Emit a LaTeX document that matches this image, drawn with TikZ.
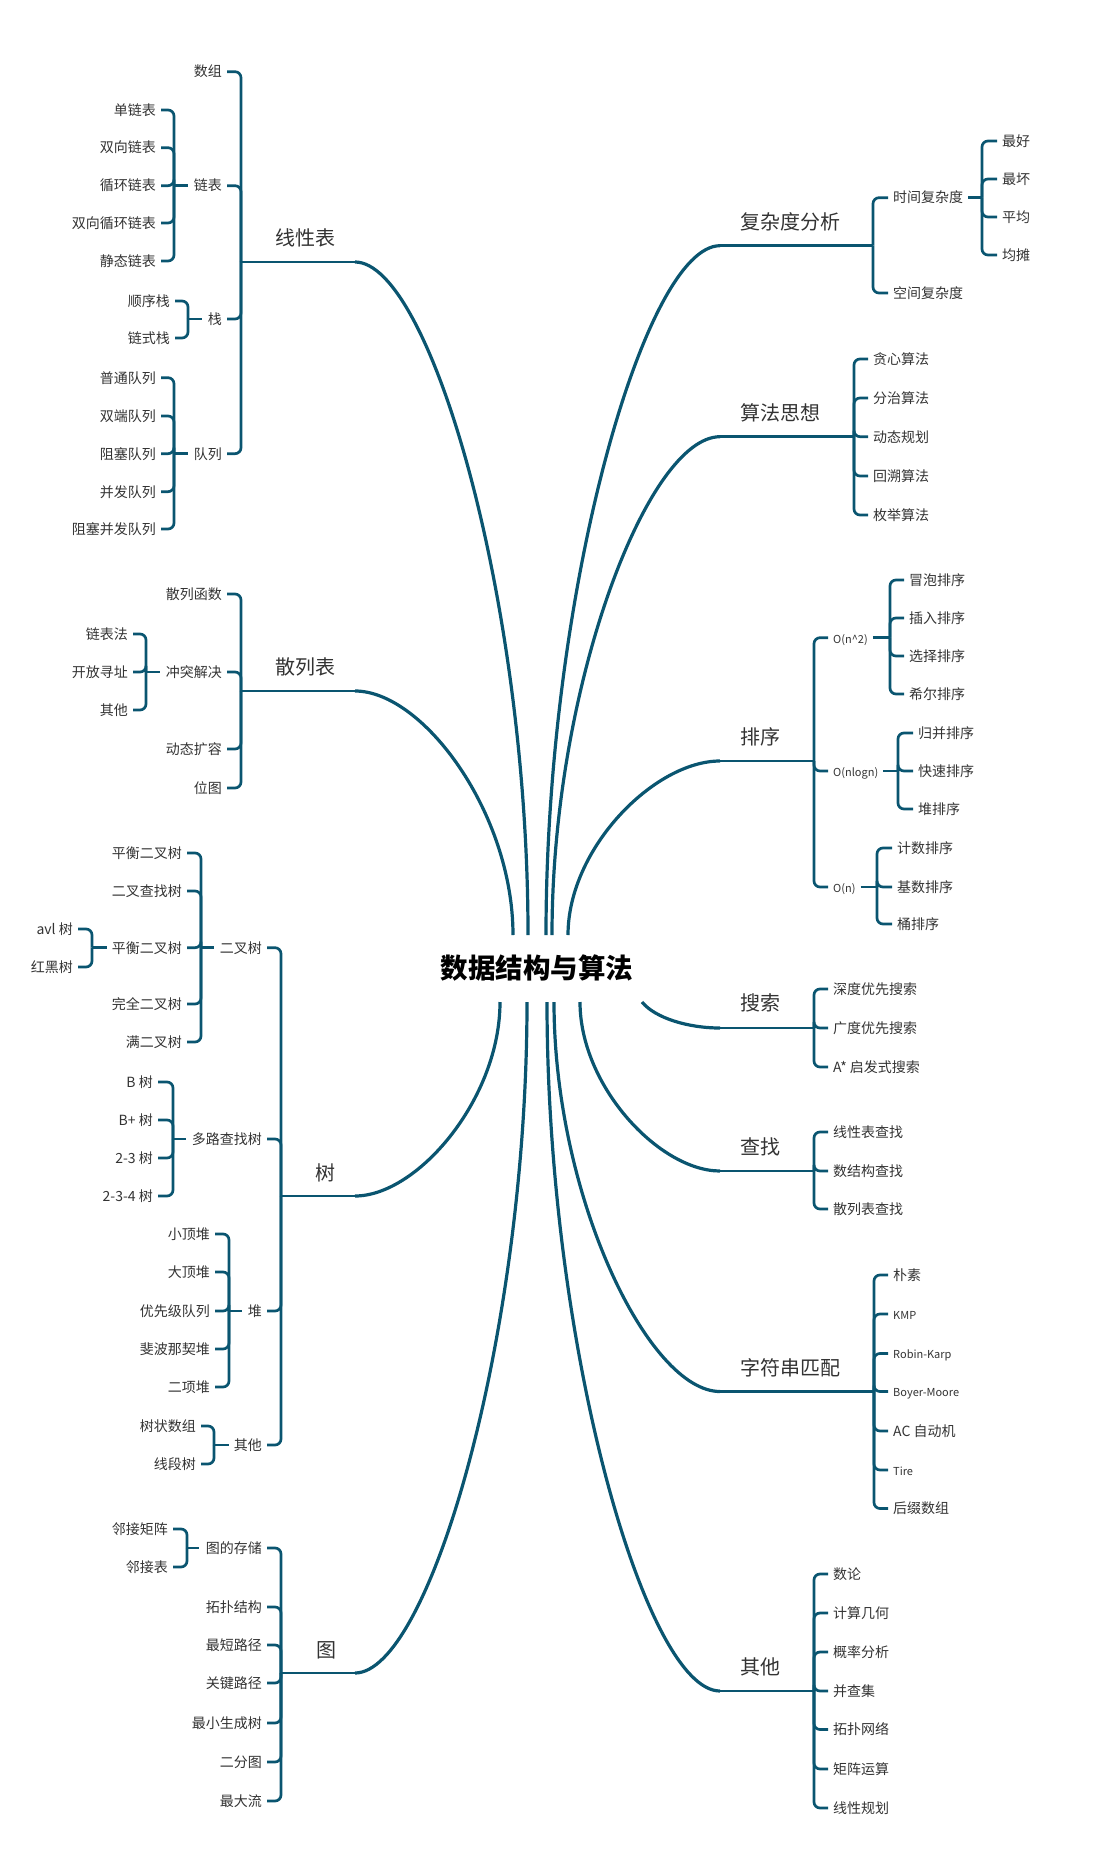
\documentclass[tikz,border=0pt]{standalone}
\usepackage{fontspec}
\setmainfont{Noto Sans CJK SC}
\usetikzlibrary{calc}
\definecolor{ln}{HTML}{0A5570}
\definecolor{tx}{HTML}{333333}
\newcommand\mcurve[2]{\draw[main] (#1) .. controls ($(#1)!.5!(#1|-#2)$) and ($(#2)!.43!(#2-|#1)$) .. (#2);}
\newcommand\Lk[2]{\foreach \c in {#2}{\draw[br] (#1) |- ([xshift=5pt]\c.east);}}
\newcommand\Rk[2]{\foreach \c in {#2}{\draw[br] (#1) |- ([xshift=-5pt]\c.west);}}
\begin{document}
\begin{tikzpicture}[x=1pt,y=-1pt,
  main/.style={draw=ln,line width=3.2pt},
  br/.style={draw=ln,line width=2.7pt,rounded corners=6pt},
  root/.style={font=\fontsize{27.5}{27.5}\selectfont\bfseries,text=black,inner sep=0pt},
  top/.style={font=\fontsize{20}{20}\selectfont,text=tx,inner sep=0pt,text height=17.6pt,text depth=2.4pt},
  lf/.style={font=\fontsize{14}{14}\selectfont,text=tx,inner sep=0pt,text height=12.3pt,text depth=1.7pt},
  lat/.style={lf,font=\fontsize{11}{11}\selectfont},
]
\useasboundingbox (0,0) rectangle (1102,1867);
\node[root] (root) at (537,968) {数据结构与算法};
% curve starts on the root box
\coordinate (s1) at (528,935);
\coordinate (s2) at (513,935);
\coordinate (s3) at (500,1002);
\coordinate (s4) at (527,1002);
\coordinate (s5) at (546,935);
\coordinate (s6) at (552,935);
\coordinate (s7) at (568,935);
\coordinate (s8) at (642,1002);
\coordinate (s9) at (580,1002);
\coordinate (s10) at (554,1002);
\coordinate (s11) at (547,1002);

%================ 线性表
\coordinate (e1) at (355,262); \coordinate (j1) at (241,262);
\node[top,anchor=west] (b1) at (275,238) {线性表};
\mcurve{s1}{e1}
\draw[br,rounded corners=0pt] (e1) -- (j1);
\node[lf,anchor=east] (a1) at (222,71.7) {数组};
\node[lf,anchor=east] (a2) at (222,185.7) {链表};
\node[lf,anchor=east] (a3) at (222,319) {栈};
\node[lf,anchor=east] (a4) at (222,453.7) {队列};
\Lk{j1}{a1,a2,a3,a4}
\coordinate (ja2) at (174,185.7);
\draw[br] (ja2) -- ([xshift=-6pt]a2.west);
\node[lf,anchor=east] (a21) at (156,110) {单链表};
\node[lf,anchor=east] (a22) at (156,147.7) {双向链表};
\node[lf,anchor=east] (a23) at (156,185.7) {循环链表};
\node[lf,anchor=east] (a24) at (156,223) {双向循环链表};
\node[lf,anchor=east] (a25) at (156,261) {静态链表};
\Lk{ja2}{a21,a22,a23,a24,a25}
\coordinate (ja3) at (188,319);
\draw[br] (ja3) -- ([xshift=-6pt]a3.west);
\node[lf,anchor=east] (a31) at (170,301) {顺序栈};
\node[lf,anchor=east] (a32) at (170,338) {链式栈};
\Lk{ja3}{a31,a32}
\coordinate (ja4) at (174,453.7);
\draw[br] (ja4) -- ([xshift=-6pt]a4.west);
\node[lf,anchor=east] (a41) at (156,377.7) {普通队列};
\node[lf,anchor=east] (a42) at (156,416) {双端队列};
\node[lf,anchor=east] (a43) at (156,453.7) {阻塞队列};
\node[lf,anchor=east] (a44) at (156,491.7) {并发队列};
\node[lf,anchor=east] (a45) at (156,529) {阻塞并发队列};
\Lk{ja4}{a41,a42,a43,a44,a45}

%================ 散列表
\coordinate (e2) at (355,691); \coordinate (j2) at (241,691);
\node[top,anchor=west] (b2) at (275,667) {散列表};
\mcurve{s2}{e2}
\draw[br,rounded corners=0pt] (e2) -- (j2);
\node[lf,anchor=east] (h1) at (222,594) {散列函数};
\node[lf,anchor=east] (h2) at (222,672) {冲突解决};
\node[lf,anchor=east] (h3) at (222,749) {动态扩容};
\node[lf,anchor=east] (h4) at (222,788) {位图};
\Lk{j2}{h1,h2,h3,h4}
\coordinate (jh2) at (146,672);
\draw[br] (jh2) -- ([xshift=-6pt]h2.west);
\node[lf,anchor=east] (h21) at (128,634) {链表法};
\node[lf,anchor=east] (h22) at (128,672) {开放寻址};
\node[lf,anchor=east] (h23) at (128,710) {其他};
\Lk{jh2}{h21,h22,h23}

%================ 树
\coordinate (e3) at (355,1196); \coordinate (j3) at (281,1196);
\node[top,anchor=west] (b3) at (315,1173) {树};
\mcurve{s3}{e3}
\draw[br,rounded corners=0pt] (e3) -- (j3);
\node[lf,anchor=east] (t1) at (262,947.7) {二叉树};
\node[lf,anchor=east] (t2) at (262,1139) {多路查找树};
\node[lf,anchor=east] (t3) at (262,1311) {堆};
\node[lf,anchor=east] (t4) at (262,1445) {其他};
\Lk{j3}{t1,t2,t3,t4}
\coordinate (jt1) at (201,947.7);
\draw[br] (jt1) -- ([xshift=-6pt]t1.west);
\node[lf,anchor=east] (t11) at (182,853) {平衡二叉树};
\node[lf,anchor=east] (t12) at (182,891) {二叉查找树};
\node[lf,anchor=east] (t13) at (182,947.7) {平衡二叉树};
\node[lf,anchor=east] (t14) at (182,1004) {完全二叉树};
\node[lf,anchor=east] (t15) at (182,1042) {满二叉树};
\Lk{jt1}{t11,t12,t13,t14,t15}
\coordinate (jt13) at (92,947.7);
\draw[br] (jt13) -- ([xshift=-5pt]t13.west);
\node[lf,anchor=east] (t131) at (73,929) {avl 树};
\node[lf,anchor=east] (t132) at (73,967) {红黑树};
\Lk{jt13}{t131,t132}
\coordinate (jt2) at (173,1139);
\draw[br] (jt2) -- ([xshift=-6pt]t2.west);
\node[lf,anchor=east] (t21) at (153,1082) {B 树};
\node[lf,anchor=east] (t22) at (153,1120) {B+ 树};
\node[lf,anchor=east] (t23) at (153,1158) {2-3 树};
\node[lf,anchor=east] (t24) at (153,1196) {2-3-4 树};
\Lk{jt2}{t21,t22,t23,t24}
\coordinate (jt3) at (229,1311);
\draw[br] (jt3) -- ([xshift=-6pt]t3.west);
\node[lf,anchor=east] (t31) at (210,1234) {小顶堆};
\node[lf,anchor=east] (t32) at (210,1272) {大顶堆};
\node[lf,anchor=east] (t33) at (210,1311) {优先级队列};
\node[lf,anchor=east] (t34) at (210,1349) {斐波那契堆};
\node[lf,anchor=east] (t35) at (210,1387) {二项堆};
\Lk{jt3}{t31,t32,t33,t34,t35}
\coordinate (jt4) at (214,1445);
\draw[br] (jt4) -- ([xshift=-5pt]t4.west);
\node[lf,anchor=east] (t41) at (196,1426) {树状数组};
\node[lf,anchor=east] (t42) at (196,1464) {线段树};
\Lk{jt4}{t41,t42}

%================ 图
\coordinate (e4) at (355,1673); \coordinate (j4) at (281,1673);
\node[top,anchor=west] (b4) at (316,1650) {图};
\mcurve{s4}{e4}
\draw[br,rounded corners=0pt] (e4) -- (j4);
\node[lf,anchor=east] (g1) at (262,1548) {图的存储};
\node[lf,anchor=east] (g2) at (262,1607) {拓扑结构};
\node[lf,anchor=east] (g3) at (262,1645) {最短路径};
\node[lf,anchor=east] (g4) at (262,1683) {关键路径};
\node[lf,anchor=east] (g5) at (262,1723) {最小生成树};
\node[lf,anchor=east] (g6) at (262,1762) {二分图};
\node[lf,anchor=east] (g7) at (262,1801) {最大流};
\Lk{j4}{g1,g2,g3,g4,g5,g6,g7}
\coordinate (jg1) at (187,1548);
\draw[br] (jg1) -- ([xshift=-7pt]g1.west);
\node[lf,anchor=east] (g11) at (168,1529) {邻接矩阵};
\node[lf,anchor=east] (g12) at (168,1567) {邻接表};
\Lk{jg1}{g11,g12}

%================ 复杂度分析
\coordinate (e5) at (720,245.7); \coordinate (j5) at (873,245.7);
\node[top,anchor=west] (b5) at (740,222) {复杂度分析};
\mcurve{s5}{e5}
\draw[br,rounded corners=0pt] (e5) -- (j5);
\node[lf,anchor=west] (c1) at (893,197.7) {时间复杂度};
\node[lf,anchor=west] (c2) at (893,293) {空间复杂度};
\Rk{j5}{c1,c2}
\coordinate (jc1) at (982,197.7);
\draw[br] ([xshift=5pt]c1.east) -- (jc1);
\node[lf,anchor=west] (c11) at (1002,141) {最好};
\node[lf,anchor=west] (c12) at (1002,179) {最坏};
\node[lf,anchor=west] (c13) at (1002,217) {平均};
\node[lf,anchor=west] (c14) at (1002,255) {均摊};
\Rk{jc1}{c11,c12,c13,c14}

%================ 算法思想
\coordinate (e6) at (720,436.7); \coordinate (j6) at (854,436.7);
\node[top,anchor=west] (b6) at (740,413) {算法思想};
\mcurve{s6}{e6}
\draw[br,rounded corners=0pt] (e6) -- (j6);
\node[lf,anchor=west] (f1) at (873,359) {贪心算法};
\node[lf,anchor=west] (f2) at (873,398) {分治算法};
\node[lf,anchor=west] (f3) at (873,436.7) {动态规划};
\node[lf,anchor=west] (f4) at (873,476) {回溯算法};
\node[lf,anchor=west] (f5) at (873,515) {枚举算法};
\Rk{j6}{f1,f2,f3,f4,f5}

%================ 排序
\coordinate (e7) at (720,761); \coordinate (j7) at (814,761);
\node[top,anchor=west] (b7) at (740,737) {排序};
\mcurve{s7}{e7}
\draw[br,rounded corners=0pt] (e7) -- (j7);
\node[lat,anchor=west] (d1) at (833,637.7) {O(n\^{}2)};
\node[lat,anchor=west] (d2) at (833,771) {O(nlogn)};
\node[lat,anchor=west] (d3) at (833,887) {O(n)};
\Rk{j7}{d1,d2,d3}
\coordinate (jd1) at (890,637.7);
\draw[br] ([xshift=5pt]d1.east) -- (jd1);
\node[lf,anchor=west] (d11) at (909,580) {冒泡排序};
\node[lf,anchor=west] (d12) at (909,618) {插入排序};
\node[lf,anchor=west] (d13) at (909,656) {选择排序};
\node[lf,anchor=west] (d14) at (909,694) {希尔排序};
\Rk{jd1}{d11,d12,d13,d14}
\coordinate (jd2) at (898,771);
\draw[br] ([xshift=5pt]d2.east) -- (jd2);
\node[lf,anchor=west] (d21) at (918,733) {归并排序};
\node[lf,anchor=west] (d22) at (918,771) {快速排序};
\node[lf,anchor=west] (d23) at (918,809) {堆排序};
\Rk{jd2}{d21,d22,d23}
\coordinate (jd3) at (877,887);
\draw[br] ([xshift=5pt]d3.east) -- (jd3);
\node[lf,anchor=west] (d31) at (897,848) {计数排序};
\node[lf,anchor=west] (d32) at (897,887) {基数排序};
\node[lf,anchor=west] (d33) at (897,924) {桶排序};
\Rk{jd3}{d31,d32,d33}

%================ 搜索
\coordinate (e8) at (720,1028); \coordinate (j8) at (814,1028);
\node[top,anchor=west] (b8) at (740,1003) {搜索};
\draw[main] (s8) .. controls (655,1018) and (688,1028) .. (e8);
\draw[br,rounded corners=0pt] (e8) -- (j8);
\node[lf,anchor=west] (k1) at (833,989) {深度优先搜索};
\node[lf,anchor=west] (k2) at (833,1028) {广度优先搜索};
\node[lf,anchor=west] (k3) at (833,1067) {A* 启发式搜索};
\Rk{j8}{k1,k2,k3}

%================ 查找
\coordinate (e9) at (720,1171); \coordinate (j9) at (814,1171);
\node[top,anchor=west] (b9) at (740,1147) {查找};
\mcurve{s9}{e9}
\draw[br,rounded corners=0pt] (e9) -- (j9);
\node[lf,anchor=west] (m1) at (833,1132) {线性表查找};
\node[lf,anchor=west] (m2) at (833,1171) {数结构查找};
\node[lf,anchor=west] (m3) at (833,1209) {散列表查找};
\Rk{j9}{m1,m2,m3}

%================ 字符串匹配
\coordinate (e10) at (720,1391.5); \coordinate (j10) at (874,1391.5);
\node[top,anchor=west] (b10) at (740,1368) {字符串匹配};
\mcurve{s10}{e10}
\draw[br,rounded corners=0pt] (e10) -- (j10);
\node[lf,anchor=west] (p1) at (893,1275) {朴素};
\node[lat,anchor=west] (p2) at (893,1314) {KMP};
\node[lat,anchor=west] (p3) at (893,1353.5) {Robin-Karp};
\node[lat,anchor=west] (p4) at (893,1391.5) {Boyer-Moore};
\node[lf,anchor=west] (p5) at (893,1431) {AC 自动机};
\node[lat,anchor=west] (p6) at (893,1470) {Tire};
\node[lf,anchor=west] (p7) at (893,1508.5) {后缀数组};
\Rk{j10}{p1,p2,p3,p4,p5,p6,p7}

%================ 其他
\coordinate (e11) at (720,1691); \coordinate (j11) at (814,1691);
\node[top,anchor=west] (b11) at (740,1666.5) {其他};
\mcurve{s11}{e11}
\draw[br,rounded corners=0pt] (e11) -- (j11);
\node[lf,anchor=west] (q1) at (833,1574) {数论};
\node[lf,anchor=west] (q2) at (833,1613) {计算几何};
\node[lf,anchor=west] (q3) at (833,1652) {概率分析};
\node[lf,anchor=west] (q4) at (833,1691) {并查集};
\node[lf,anchor=west] (q5) at (833,1729.5) {拓扑网络};
\node[lf,anchor=west] (q6) at (833,1769) {矩阵运算};
\node[lf,anchor=west] (q7) at (833,1808) {线性规划};
\Rk{j11}{q1,q2,q3,q4,q5,q6,q7}
\end{tikzpicture}
\end{document}
